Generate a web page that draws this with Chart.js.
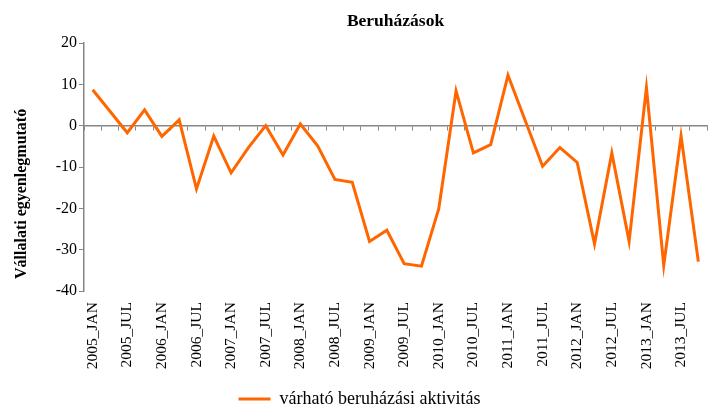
<!DOCTYPE html>
<html>
<head>
<meta charset="utf-8">
<script src="https://cdn.jsdelivr.net/npm/chart.js@4"></script>
<style>
  html, body { margin: 0; padding: 0; background: #fff; }
  #wrap { width: 717px; height: 410px; }
</style>
</head>
<body>
<div id="wrap"><canvas id="chart" width="717" height="410"></canvas></div>
<script>
const quarters = [];
const years = [2005, 2006, 2007, 2008, 2009, 2010, 2011, 2012, 2013];
const months = ['JAN', 'ÁPR', 'JUL', 'OKT'];
years.forEach(y => months.forEach(m => quarters.push(y + '_' + m)));

// várható beruházási aktivitás, negyedéves
const activity = [
    8.7, 3.5, -1.7, 3.8, -2.6, 1.4, -15.3, -2.5, -11.4, -5.3, 0.0, -7.1,
    0.4, -4.9, -13.0, -13.7, -28.0, -25.3, -33.4, -34.0, -20.1, 8.4, -6.6, -4.6,
    12.2, 1.2, -9.8, -5.3, -8.9, -28.6, -6.6, -28.0, 9.2, -33.8, -2.5, -32.9
];

const yTicks = [-40, -30, -20, -10, 0, 10, 20];

const serif = 'Liberation Serif';
const axisGray = '#868686';

const ctx = document.getElementById('chart').getContext('2d');
new Chart(ctx, {
    type: 'line',
    data: {
        labels: quarters,
        datasets: [{
            label: 'várható beruházási aktivitás',
            data: activity,
            borderColor: '#FF6600',
            backgroundColor: '#FF6600',
            borderWidth: 3,
            pointRadius: 0,
            tension: 0,
            xAxisID: 'x'
        }]
    },
    options: {
        responsive: false,
        animation: false,
        layout: { padding: { left: 12, right: 10, top: 9, bottom: -8 } },
        font: { family: serif },
        plugins: {
            title: {
                display: true,
                text: 'Beruházások',
                fullSize: false,
                color: '#000',
                font: { family: serif, size: 17.5, weight: 'bold' },
                padding: { top: 2, bottom: 11 }
            },
            legend: {
                position: 'bottom',
                labels: {
                    usePointStyle: true,
                    pointStyle: 'line',
                    pointStyleWidth: 32,
                    boxWidth: 32,
                    color: '#000',
                    font: { family: serif, size: 18 },
                    padding: 4
                }
            },
            tooltip: { enabled: false }
        },
        scales: {
            x: {
                type: 'category',
                position: 'bottom',
                offset: true,
                border: { display: false },
                grid: { display: false },
                afterFit: s => { s.height = 95; s.paddingRight = 0; },
                ticks: {
                    autoSkip: false,
                    minRotation: 90,
                    maxRotation: 90,
                    padding: 3,
                    color: '#000',
                    font: { family: serif, size: 15.5 },
                    callback: (v, i) => (i % 2 === 0 ? quarters[i] : '')
                }
            },
            x0: {
                type: 'category',
                position: { y: 0 },
                offset: true,
                afterFit: s => { s.paddingRight = 0; },
                border: { display: true, color: axisGray, width: 1.5 },
                grid: { display: true, offset: true, drawOnChartArea: false, drawTicks: true, tickLength: 4, color: axisGray },
                ticks: { display: false, autoSkip: false }
            },
            y: {
                min: -40,
                max: 20,
                afterBuildTicks: s => { s.ticks = yTicks.map(v => ({ value: v })); },
                afterFit: s => { s.width = 72; },
                border: { display: true, color: axisGray, width: 1.5 },
                grid: { display: true, drawOnChartArea: false, drawTicks: true, tickLength: 5, color: axisGray },
                ticks: {
                    color: '#000',
                    padding: 2,
                    font: { family: serif, size: 16 }
                },
                title: {
                    display: true,
                    text: '   Vállalati egyenlegmutató',
                    align: 'start',
                    color: '#000',
                    font: { family: serif, size: 16, weight: 'bold' },
                    padding: { top: 0, bottom: 6 }
                }
            }
        }
    }
});
</script>
</body>
</html>
